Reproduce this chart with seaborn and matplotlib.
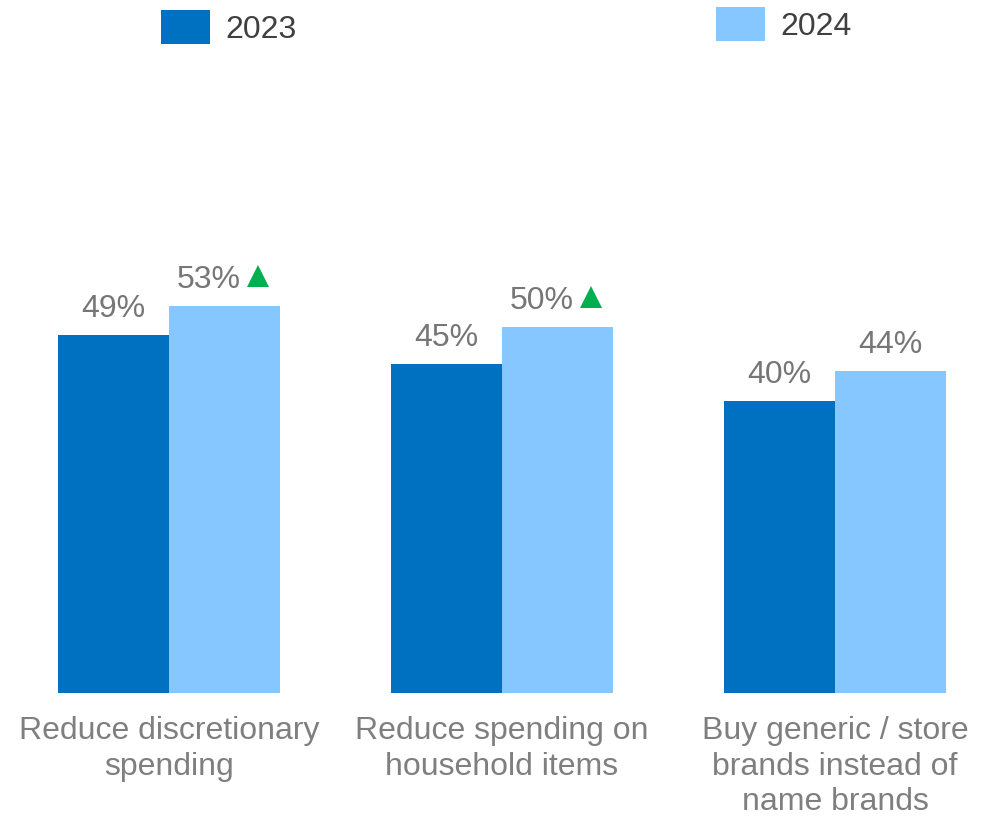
import matplotlib
matplotlib.use("Agg")
import matplotlib.pyplot as plt
import matplotlib.transforms as mtransforms
from matplotlib.patches import Patch
import seaborn as sns
import pandas as pd

# Survey results: share of respondents taking each action
categories = [
    "Reduce discretionary\nspending",
    "Reduce spending on\nhousehold items",
    "Buy generic / store\nbrands instead of\nname brands",
]
years = ["2023", "2024"]
values_2023 = [49, 45, 40]
values_2024 = [53, 50, 44]
sig_up_2024 = [True, True, False]  # significant increase vs. prior year

df = pd.DataFrame({
    "category": categories * 2,
    "year": [years[0]] * len(categories) + [years[1]] * len(categories),
    "value": values_2023 + values_2024,
})

sns.set_theme(style="white")
plt.rcParams["font.family"] = ["Liberation Sans", "DejaVu Sans"]

colors = ["#0070C0", "#87C7FF"]
label_gray = "#767676"
fs = 23

fig = plt.figure(figsize=(9.97, 8.17), dpi=100)
ax = fig.add_axes([0, 0.1518, 1, 0.8482])
sns.barplot(data=df, x="category", y="value", hue="year", palette=colors,
            width=0.667, saturation=1, errorbar=None, legend=False, ax=ax,
            linewidth=0)

ax.set_xlim(-0.5075, 2.4865)
ax.set_ylim(0, 94.8)
sns.despine(ax=ax, left=True, bottom=True)
ax.set_yticks([])
ax.set_xlabel("")
ax.set_ylabel("")
ax.set_xticks(range(len(categories)))
ax.set_xticklabels(categories, fontsize=fs, color="#7f7f7f", linespacing=1.25)
ax.tick_params(axis="x", length=0, pad=16.5)

# Value labels above each bar, with a green arrow for significant increases
series_vals = [values_2023, values_2024]
series_sig = [[False] * len(categories), sig_up_2024]
for cont, vals, sigs in zip(ax.containers, series_vals, series_sig):
    for bar, v, up in zip(cont, vals, sigs):
        x = bar.get_x() + bar.get_width() / 2
        top = bar.get_height()
        dx = -15.5 if up else 0
        ax.annotate(f"{v}%", xy=(x, top), xytext=(dx, 18),
                    textcoords="offset pixels", ha="center", va="baseline",
                    fontsize=fs, color=label_gray)
        if up:
            tr = mtransforms.offset_copy(ax.transData, fig=fig, x=33, y=30,
                                         units="dots")
            ax.plot([x], [top], marker="^", markersize=15.8, color="#00B050",
                    markeredgewidth=0, transform=tr, clip_on=False)

# Year keys placed separately across the top
px = fs * 100 / 72
for color, year, (lx, ly) in zip(colors, years, [(161, 27.5), (716, 24.5)]):
    fig.legend(handles=[Patch(facecolor=color, edgecolor="none", label=year)],
               loc="center left", bbox_to_anchor=(lx / 997, 1 - ly / 817),
               frameon=False, fontsize=fs, handlelength=49 / px,
               handleheight=39 / px, handletextpad=15 / px, borderpad=0,
               borderaxespad=0, labelcolor="#404040")

fig.savefig("out.png", dpi=100)
